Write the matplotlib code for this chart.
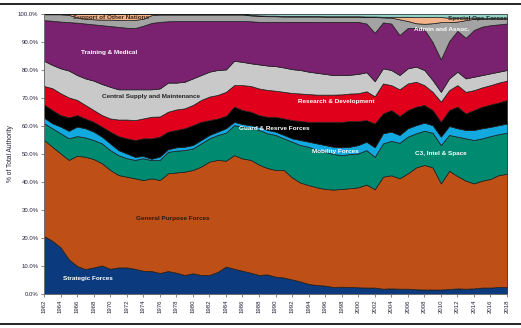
import matplotlib
matplotlib.use("Agg")
import matplotlib.pyplot as plt
from matplotlib.ticker import FuncFormatter
from matplotlib.lines import Line2D

plt.rcParams['font.family'] = ['Liberation Sans', 'DejaVu Sans']

years = list(range(1962, 2019))

strategic = [20.7, 19.0, 16.7, 12.4, 10.0, 8.9, 9.5, 10.2, 9.0, 9.5,
             9.5, 9.0, 8.3, 8.2, 7.5, 8.2, 7.6, 6.8, 7.4, 6.8,
             6.8, 7.9, 9.8, 9.0, 8.3, 7.6, 6.8, 7.0, 6.2, 5.9,
             5.2, 4.5, 3.6, 3.2, 3.0, 2.5, 2.6, 2.5, 2.4, 2.3,
             2.3, 1.9, 2.0, 1.9, 1.9, 1.7, 1.6, 1.6, 1.6, 1.8,
             2.0, 1.9, 2.0, 2.3, 2.3, 2.5, 2.5]
general_purpose = [34.3, 33.6, 33.5, 35.5, 39.4, 40.1, 38.7, 36.5, 35.3, 33.0,
                   32.4, 32.3, 32.4, 33.1, 33.2, 34.9, 35.8, 36.9, 36.9, 38.7,
                   40.5, 40.0, 37.8, 40.6, 40.1, 40.3, 39.4, 38.0, 38.1, 38.4,
                   36.4, 35.3, 35.3, 34.9, 34.5, 34.8, 34.9, 35.3, 35.7, 36.8,
                   35.1, 40.0, 40.4, 39.4, 41.2, 43.5, 44.5, 43.6, 37.9, 42.2,
                   40.1, 38.6, 37.5, 38.2, 38.8, 40.0, 40.4]
c3_intel_space = [6.0, 6.6, 7.2, 7.7, 7.0, 6.9, 6.8, 7.1, 7.1, 7.1,
                  6.6, 6.6, 7.8, 6.5, 7.2, 7.7, 7.8, 7.7, 7.7, 8.3,
                  8.3, 8.9, 10.0, 10.7, 11.3, 11.6, 12.4, 12.4, 12.5, 11.3,
                  12.8, 13.4, 13.7, 13.3, 13.3, 12.7, 12.1, 12.2, 12.1, 12.3,
                  11.6, 11.9, 12.3, 12.7, 13.1, 12.2, 12.2, 12.4, 13.7, 12.8,
                  14.1, 15.1, 15.5, 15.1, 15.3, 14.6, 14.7]
mobility = [2.0, 1.8, 2.4, 2.7, 3.4, 3.3, 3.0, 2.4, 2.4, 1.8,
            1.7, 1.1, 0.8, 0.5, 1.2, 0.9, 1.2, 1.2, 1.2, 1.2,
            1.2, 1.2, 1.6, 1.2, 1.0, 0.8, 1.1, 1.2, 1.2, 1.2,
            1.2, 1.8, 1.8, 2.4, 2.4, 2.6, 2.8, 2.6, 3.0, 3.0,
            3.4, 3.6, 3.3, 2.8, 3.0, 2.9, 2.9, 2.7, 3.0, 3.2,
            3.0, 3.0, 3.6, 3.6, 3.3, 3.2, 3.3]
guard_reserve = [4.7, 4.7, 4.1, 4.8, 4.1, 3.5, 3.5, 3.6, 4.2, 5.0,
                 5.4, 6.0, 6.3, 7.3, 7.1, 6.3, 6.2, 6.6, 7.1, 6.5,
                 5.3, 4.7, 4.4, 5.4, 5.0, 4.8, 4.2, 4.7, 5.3, 5.9,
                 6.5, 6.8, 7.1, 7.7, 8.3, 8.9, 9.1, 9.2, 8.6, 7.7,
                 8.5, 7.1, 7.7, 6.8, 6.5, 6.6, 6.3, 5.4, 5.3, 5.7,
                 7.7, 5.9, 7.1, 7.7, 8.0, 8.1, 8.4]
research_dev = [6.6, 7.8, 7.8, 7.1, 5.4, 4.8, 4.2, 4.1, 4.7, 5.9,
                6.7, 7.1, 7.1, 7.7, 7.2, 7.1, 7.3, 7.1, 7.2, 7.8,
                8.4, 8.4, 8.6, 7.7, 8.9, 9.2, 9.5, 9.6, 9.3, 9.5,
                9.7, 9.8, 9.9, 9.7, 9.7, 9.7, 9.8, 9.8, 9.9, 10.3,
                9.7, 10.7, 8.9, 9.5, 9.5, 8.9, 7.1, 6.5, 7.2, 7.1,
                7.7, 7.7, 7.1, 6.9, 6.9, 7.1, 6.9]
central_supply = [9.0, 8.3, 8.9, 9.6, 8.9, 9.5, 10.5, 11.1, 11.3, 10.8,
                  10.8, 11.0, 10.4, 9.8, 10.0, 10.4, 9.6, 9.5, 9.5, 8.9,
                  8.9, 8.9, 8.0, 8.7, 8.3, 8.1, 8.6, 8.7, 8.8, 8.7,
                  8.5, 8.4, 8.0, 7.8, 7.4, 7.0, 6.9, 6.7, 6.9, 6.8,
                  5.4, 5.4, 5.4, 5.1, 5.4, 5.4, 5.4, 4.2, 3.5, 4.2,
                  4.8, 4.8, 4.8, 4.4, 4.2, 3.9, 3.8]
training_medical = [14.5, 15.8, 16.7, 17.3, 18.7, 19.6, 20.1, 21.0, 21.7, 22.3,
                    22.0, 21.9, 22.7, 23.7, 23.8, 21.9, 22.0, 21.7, 20.5, 19.3,
                    18.1, 17.5, 17.3, 14.2, 14.6, 15.0, 15.2, 15.6, 15.8, 16.3,
                    16.9, 17.2, 17.8, 18.2, 18.6, 19.0, 19.0, 18.9, 18.6, 17.4,
                    17.3, 16.4, 16.6, 14.3, 14.4, 13.8, 14.5, 13.6, 11.6, 13.3,
                    14.6, 14.5, 16.7, 17.3, 17.2, 16.9, 16.6]
admin_assoc = [2.1, 2.3, 2.6, 2.6, 1.9, 1.7, 1.8, 2.0, 2.3, 2.5,
               2.7, 2.9, 2.5, 2.8, 2.6, 2.4, 2.3, 2.3, 2.3, 2.3,
               2.3, 2.3, 2.3, 2.3, 2.3, 2.1, 2.1, 2.0, 2.0, 1.9,
               1.9, 1.9, 1.9, 1.9, 1.8, 1.8, 1.8, 1.8, 1.8, 2.3,
               5.6, 1.8, 2.1, 5.6, 2.5, 1.7, 2.0, 6.7, 13.3, 6.8,
               3.3, 6.3, 4.0, 2.8, 2.4, 2.1, 1.8]
support_other_nations = [0.1, 0.1, 0.1, 0.3, 1.2, 1.7, 1.9, 2.0, 2.0, 2.1,
                         2.2, 2.1, 1.7, 0.4, 0.2, 0.2, 0.2, 0.2, 0.2, 0.2,
                         0.2, 0.2, 0.2, 0.2, 0.2, 0.2, 0.2, 0.2, 0.2, 0.2,
                         0.2, 0.2, 0.2, 0.2, 0.2, 0.2, 0.2, 0.2, 0.2, 0.2,
                         0.2, 0.2, 0.3, 0.9, 1.5, 2.2, 2.4, 2.2, 1.8, 1.6,
                         1.4, 0.9, 0.4, 0.2, 0.1, 0.1, 0.1]
special_ops = [0, 0, 0, 0, 0, 0, 0, 0, 0, 0,
               0, 0, 0, 0, 0, 0, 0, 0, 0, 0,
               0, 0, 0, 0, 0, 0.3, 0.5, 0.6, 0.6, 0.7,
               0.7, 0.7, 0.7, 0.7, 0.8, 0.8, 0.8, 0.8, 0.8, 0.9,
               0.9, 1.0, 1.0, 1.0, 1.0, 1.1, 1.1, 1.1, 1.1, 1.3,
               1.3, 1.3, 1.3, 1.5, 1.5, 1.5, 1.5]

colors = ['#0B3A7E', '#BE5017', '#008A70', '#12A8E0', '#000000', '#E0001B',
          '#C9C9C9', '#7A2170', '#A3A3A3', '#F4B48C', '#93D2C6']

W, H = 521, 328
fig = plt.figure(figsize=(W / 100, H / 100), dpi=100)
ax = fig.add_axes([44 / W, 1 - 294 / H, (507 - 44) / W, (294 - 14) / H])

ax.stackplot(years, strategic, general_purpose, c3_intel_space, mobility,
             guard_reserve, research_dev, central_supply, training_medical,
             admin_assoc, support_other_nations, special_ops,
             colors=colors, edgecolor='#1c1c1c', linewidth=0.5)

ax.set_xlim(1962, 2018)
ax.set_ylim(0, 100)
ax.set_yticks(range(0, 101, 10))
ax.yaxis.set_major_formatter(FuncFormatter(lambda v, p: f"{v:.1f}%"))
ax.set_xticks(range(1962, 2019, 2))
ax.set_xticklabels([str(y) for y in range(1962, 2019, 2)], rotation=90)
ax.tick_params(axis='both', labelsize=4.3, length=2.5, width=0.5,
               colors='#555555', labelcolor='#22223a', pad=1.5)
for s in ['top', 'right']:
    ax.spines[s].set_visible(False)
for s in ['left', 'bottom']:
    ax.spines[s].set_color('#777777')
    ax.spines[s].set_linewidth(0.6)
ax.set_ylabel('% of Total Authority', fontsize=4.8, color='#22223a', labelpad=3)

lbl = dict(fontsize=4.6, fontweight='bold', ha='center', va='center')
ax.text(1967.3, 5.4, 'Strategic Forces', color='white', **lbl)
ax.text(1977.6, 27.1, 'General Purpose Forces', color='#2a1a10', **lbl)
ax.text(2010.0, 50.0, 'C3, Intel & Space', color='white', **lbl)
ax.text(1997.2, 50.8, 'Mobility Forces', color='white', **lbl)
ax.text(1989.9, 59.2, 'Guard & Resrve Forces', color='white', **lbl)
ax.text(1997.3, 68.7, 'Research & Development', color='white', **lbl)
ax.text(1975.0, 70.7, 'Central Supply and Maintenance', color='#222222', **lbl)
ax.text(1969.9, 86.3, 'Training & Medical', color='white', **lbl)
ax.text(1970.1, 98.8, 'Support of Other Nations', color='#3a2a1a', **lbl)
ax.text(2010.1, 94.5, 'Admin and Assoc.', color='white', **lbl)
ax.text(2018, 98.4, 'Special Ops Forces', color='#222222', fontsize=4.6,
        fontweight='bold', ha='right', va='center')

fig.add_artist(Line2D([0, 1], [1 - 3.5 / H, 1 - 3.5 / H], color='black', lw=1.2))
fig.add_artist(Line2D([0, 1], [1 - 323.5 / H, 1 - 323.5 / H], color='black', lw=1.2))

fig.savefig('out.png', dpi=100)
